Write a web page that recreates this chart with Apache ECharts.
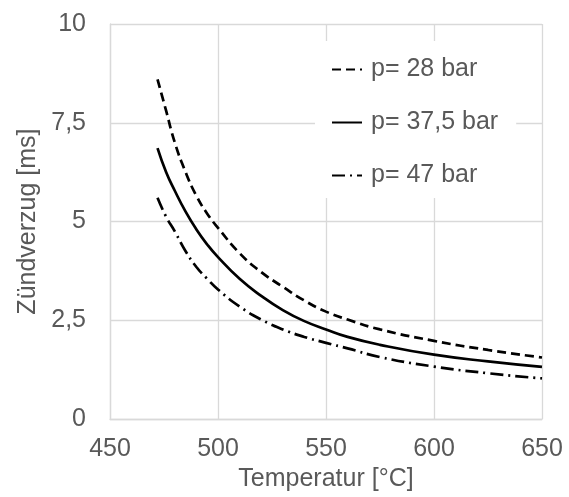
<!DOCTYPE html>
<html>
<head>
<meta charset="utf-8">
<script src="https://cdn.jsdelivr.net/npm/echarts@6/dist/echarts.min.js"></script>
<style>
html,body{margin:0;padding:0;background:#fff;}
#chart{width:569px;height:497px;}
</style>
</head>
<body>
<div id="chart"></div>
<script>
var temps = [472, 476, 480, 485, 490, 495, 500, 510, 520, 530, 540, 550, 560, 575, 600, 625, 650];
var p28 = [8.6, 7.8, 7.0, 6.25, 5.65, 5.2, 4.84, 4.2, 3.72, 3.35, 3.0, 2.72, 2.52, 2.27, 1.98, 1.75, 1.56];
var p375 = [6.86, 6.25, 5.78, 5.25, 4.8, 4.42, 4.1, 3.55, 3.12, 2.76, 2.48, 2.27, 2.08, 1.88, 1.63, 1.46, 1.32];
var p47 = [5.6, 5.12, 4.75, 4.25, 3.85, 3.55, 3.28, 2.85, 2.52, 2.27, 2.08, 1.93, 1.79, 1.57, 1.33, 1.16, 1.03];
var seriesNames = ['p= 28 bar', 'p= 37,5 bar', 'p= 47 bar'];
var xTicks = {min: 450, max: 650, interval: 50};
var yTicks = {min: 0, max: 10, interval: 2.5};

function pairs(vals) { return temps.map(function (t, i) { return [t, vals[i]]; }); }

var txt = '#595959';
var gridC = '#d9d9d9';
var font = 'Liberation Sans, Arial, sans-serif';

var chart = echarts.init(document.getElementById('chart'), null, {renderer: 'canvas'});
chart.setOption({
  animation: false,
  backgroundColor: '#fff',
  grid: {left: 110, right: 27, top: 24, bottom: 77},
  legend: {
    show: true,
    orient: 'vertical',
    left: 315,
    top: 41,
    padding: [16, 18, 10, 16],
    backgroundColor: '#fff',
    itemWidth: 30,
    itemHeight: 20,
    itemGap: 28,
    itemStyle: {opacity: 0},
    textStyle: {fontSize: 25, color: txt, fontFamily: font, padding: [0, 0, 0, 4]},
    data: seriesNames
  },
  xAxis: {
    type: 'value',
    min: xTicks.min, max: xTicks.max, interval: xTicks.interval,
    name: 'Temperatur [°C]',
    nameLocation: 'middle',
    nameGap: 47,
    nameTextStyle: {fontSize: 25, color: txt, fontFamily: font},
    axisLine: {show: true, lineStyle: {color: gridC, width: 1.3}},
    axisTick: {show: false},
    axisLabel: {fontSize: 25, color: txt, fontFamily: font, margin: 18},
    splitLine: {show: true, lineStyle: {color: gridC, width: 1.3}}
  },
  yAxis: {
    type: 'value',
    min: yTicks.min, max: yTicks.max, interval: yTicks.interval,
    name: 'Zündverzug [ms]',
    nameLocation: 'middle',
    nameGap: 68,
    nameTextStyle: {fontSize: 25, color: txt, fontFamily: font},
    axisLine: {show: true, lineStyle: {color: gridC, width: 1.3}},
    axisTick: {show: false},
    axisLabel: {fontSize: 25, color: txt, fontFamily: font, margin: 24,
      formatter: function (v) { return String(v).replace('.', ','); }},
    splitLine: {show: true, lineStyle: {color: gridC, width: 1.3}}
  },
  series: [
    {name: seriesNames[0], type: 'line', smooth: true, symbol: 'none', data: pairs(p28),
     lineStyle: {color: '#000', width: 2.7, type: [9, 5]}, itemStyle: {color: '#000'}},
    {name: seriesNames[1], type: 'line', smooth: true, symbol: 'none', data: pairs(p375),
     lineStyle: {color: '#000', width: 2.7, type: 'solid'}, itemStyle: {color: '#000'}},
    {name: seriesNames[2], type: 'line', smooth: true, symbol: 'none', data: pairs(p47),
     lineStyle: {color: '#000', width: 2.7, type: [13, 5, 2, 5]}, itemStyle: {color: '#000'}}
  ]
});
</script>
</body>
</html>
